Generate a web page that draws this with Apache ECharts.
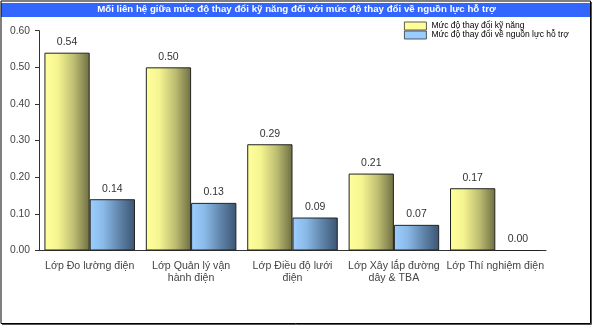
<!DOCTYPE html>
<html>
<head>
<meta charset="utf-8">
<script src="https://cdn.jsdelivr.net/npm/echarts@6/dist/echarts.min.js"></script>
<style>
  html, body { margin: 0; padding: 0; background: #ffffff; }
  #chart { width: 593px; height: 326px; }
</style>
</head>
<body>
<div id="chart"></div>
<script>
// Categories (training classes) and the two measured series
const categories = [
  'Lớp Đo lường điện',
  'Lớp Quản lý vận\nhành điện',
  'Lớp Điều độ lưới\nđiện',
  'Lớp Xây lắp đường\ndây & TBA',
  'Lớp Thí nghiệm điện'
];
const skillChange = [0.54, 0.50, 0.29, 0.21, 0.17];
const supportChange = [0.14, 0.13, 0.09, 0.07, 0.00];
const seriesNames = ['Mức độ thay đổi kỹ năng', 'Mức độ thay đổi về nguồn lực hỗ trợ'];
const titleText = 'Mối liên hệ giữa mức độ thay đổi kỹ năng đối với mức độ thay đổi về nguồn lực hỗ trợ';

const FONT = '"Liberation Sans", Arial, sans-serif';

function hGrad(stops) {
  return new echarts.graphic.LinearGradient(0, 0, 1, 0,
    stops.map(s => ({ offset: s[0], color: s[1] })));
}
const yellowFill = hGrad([[0, '#FFFF9C'], [0.3, '#F4F491'], [0.65, '#BDBD72'], [1, '#6E6E43']]);
const blueFill = hGrad([[0, '#9CCFFF'], [0.3, '#8ABAE8'], [0.65, '#6185AA'], [1, '#3B5573']]);

const chart = echarts.init(document.getElementById('chart'), null, { renderer: 'canvas' });

const labelStyle = {
  show: true,
  position: 'top',
  distance: 5,
  fontFamily: FONT,
  fontSize: 10.5,
  color: '#333',
  formatter: p => p.value.toFixed(2)
};

chart.setOption({
  animation: false,
  backgroundColor: '#ffffff',
  graphic: [
    // title bar
    { type: 'rect', z: 0, shape: { x: 1, y: 3, width: 589, height: 14 }, style: { fill: '#3366FF' } },
    { type: 'text', z: 1, left: 'center', top: 4.5,
      style: { text: titleText, fill: '#ffffff', font: 'bold 9.7px ' + FONT } },
    // frame
    { type: 'rect', z: 2, shape: { x: 1, y: 1, width: 589.5, height: 322.5 },
      style: { fill: 'none', stroke: '#000', lineWidth: 1 } },
    { type: 'line', z: 2, shape: { x1: 591.5, y1: 2, x2: 591.5, y2: 324.5 }, style: { stroke: '#555', lineWidth: 1 } },
    { type: 'line', z: 2, shape: { x1: 2, y1: 324.5, x2: 591.5, y2: 324.5 }, style: { stroke: '#555', lineWidth: 1 } }
  ],
  legend: {
    orient: 'vertical',
    left: 404,
    top: 21.5,
    itemGap: 0,
    itemWidth: 22,
    itemHeight: 8,
    padding: 0,
    icon: 'rect',
    textStyle: { fontFamily: FONT, fontSize: 8.5, color: '#000', lineHeight: 8.7 },
    data: [
      { name: seriesNames[0], itemStyle: { color: '#FFFF99', borderColor: '#333', borderWidth: 0.8 } },
      { name: seriesNames[1], itemStyle: { color: '#99CCFF', borderColor: '#333', borderWidth: 0.8 } }
    ]
  },
  grid: { left: 39, right: 47, top: 30.7, bottom: 75.5, containLabel: false },
  xAxis: {
    type: 'category',
    data: categories,
    axisLine: { lineStyle: { color: '#333', width: 1 } },
    axisTick: { length: 4, lineStyle: { color: '#333' } },
    axisLabel: { fontFamily: FONT, fontSize: 10.6, color: '#444', lineHeight: 12.5, margin: 9, interval: 0 }
  },
  yAxis: {
    type: 'value',
    min: 0,
    max: 0.6,
    interval: 0.1,
    axisLine: { show: true, lineStyle: { color: '#333', width: 1 } },
    axisTick: { show: true, length: 4, lineStyle: { color: '#333' } },
    splitLine: { show: false },
    axisLabel: { fontFamily: FONT, fontSize: 10.3, color: '#444', margin: 9, formatter: v => v.toFixed(2) }
  },
  series: [
    {
      name: seriesNames[0],
      type: 'bar',
      data: skillChange,
      barGap: '0%',
      barCategoryGap: '10.7%',
      itemStyle: { color: yellowFill, borderColor: '#222', borderWidth: 1 },
      label: labelStyle
    },
    {
      name: seriesNames[1],
      type: 'bar',
      data: supportChange,
      itemStyle: { color: blueFill, borderColor: '#222', borderWidth: 1 },
      label: labelStyle
    }
  ]
});
</script>
</body>
</html>
